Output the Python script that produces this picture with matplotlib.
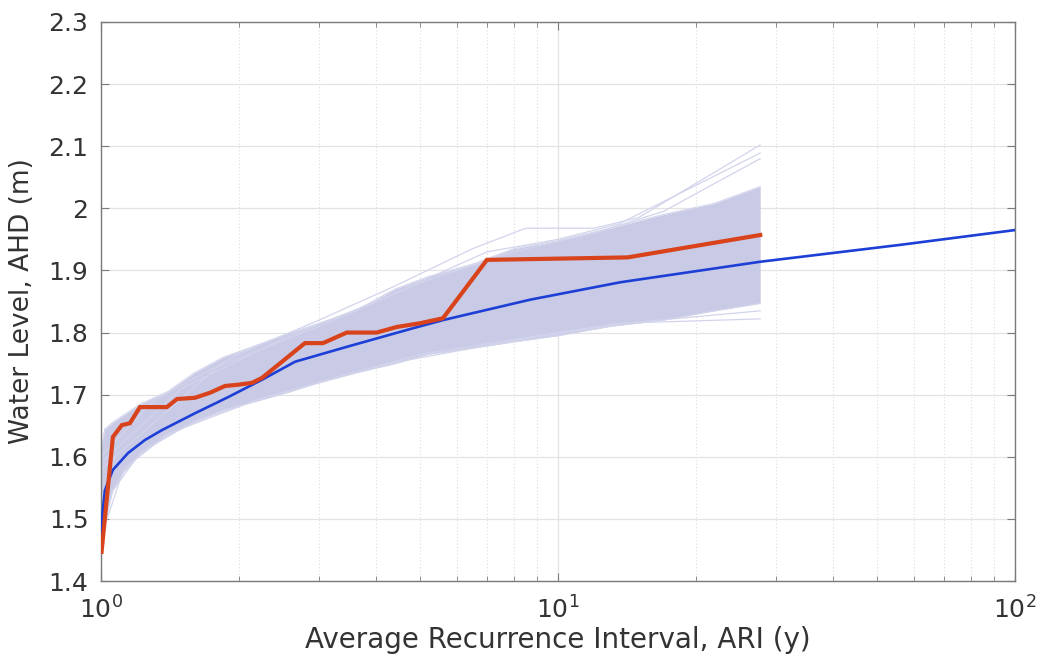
import numpy as np
import matplotlib
matplotlib.use("Agg")
import matplotlib.pyplot as plt
from matplotlib.ticker import LogLocator, MultipleLocator, NullFormatter, FuncFormatter

# ---- data ----
ens_ari = [1.0, 1.02, 1.06, 1.12, 1.22, 1.4, 1.6, 1.85, 2.2, 2.6, 3.0, 3.6,
           4.4, 5.2, 6.5, 8.0, 10, 13, 17, 22, 27.7]
ens_low = [1.455, 1.50, 1.545, 1.575, 1.605, 1.635, 1.655, 1.675, 1.69, 1.705,
           1.72, 1.735, 1.75, 1.765, 1.775, 1.785, 1.795, 1.81, 1.82, 1.835, 1.847]
ens_high = [1.615, 1.645, 1.655, 1.667, 1.685, 1.705, 1.735, 1.76, 1.78, 1.80,
            1.815, 1.835, 1.87, 1.89, 1.91, 1.935, 1.948, 1.968, 1.99, 2.008, 2.035]

# individual outlying realisations
out1_ari = [1.0, 1.3, 2.0, 3.0, 4.4, 6.5, 8.5, 12.0, 15.0, 27.7]
out1_wl = [1.60, 1.69, 1.765, 1.82, 1.875, 1.935, 1.968, 1.968, 1.985, 2.102]
out2_ari = [1.0, 1.5, 2.5, 4.0, 7.0, 10.0, 13.6, 27.7]
out2_wl = [1.59, 1.71, 1.79, 1.85, 1.93, 1.95, 1.975, 2.089]
out3_ari = [1.0, 1.8, 3.0, 5.0, 8.0, 12.0, 17.0, 27.7]
out3_wl = [1.58, 1.745, 1.81, 1.88, 1.93, 1.96, 1.995, 2.08]
out4_ari = [1.0, 1.06, 1.22, 1.6, 2.2, 3.0, 5.0, 8.2, 13.6, 27.7]
out4_wl = [1.46, 1.545, 1.607, 1.657, 1.692, 1.72, 1.765, 1.79, 1.815, 1.822]
out5_ari = [1.0, 1.12, 1.4, 2.2, 4.4, 8.0, 14.0, 27.7]
out5_wl = [1.47, 1.58, 1.637, 1.692, 1.752, 1.787, 1.815, 1.835]

red_ari = [1.003, 1.062, 1.111, 1.157, 1.217, 1.394, 1.467, 1.605, 1.731, 1.868,
           1.994, 2.139, 2.251, 2.489, 2.794, 3.06, 3.45, 4.01, 4.44, 4.99, 5.6,
           6.99, 14.2, 27.7]
red_wl = [1.447, 1.632, 1.651, 1.654, 1.68, 1.68, 1.693, 1.695, 1.703, 1.714,
          1.716, 1.719, 1.727, 1.753, 1.783, 1.783, 1.80, 1.80, 1.809, 1.815, 1.823,
          1.917, 1.921, 1.957]

blue_ari = [1.001, 1.008, 1.02, 1.062, 1.146, 1.248, 1.36, 1.605, 1.897, 2.251,
            2.658, 3.45, 4.82, 5.6, 8.7, 13.7, 27.7, 55.8, 100]
blue_wl = [1.465, 1.51, 1.546, 1.579, 1.606, 1.627, 1.643, 1.67, 1.696, 1.724,
           1.753, 1.777, 1.807, 1.82, 1.853, 1.881, 1.914, 1.941, 1.965]

x_label = "Average Recurrence Interval, ARI (y)"
y_label = "Water Level, AHD (m)"

# ---- plot ----
fig = plt.figure(figsize=(10.43, 6.66), dpi=100)
ax = fig.add_axes([0.0968, 0.1276, 0.8764, 0.8394])

lav = "#c9cbe6"
lav_line = "#d2d4ec"
ax.fill_between(ens_ari, ens_low, ens_high, color=lav, lw=0, zorder=2)
ax.plot(ens_ari, ens_low, color=lav_line, lw=0.8, zorder=2)
ax.plot(ens_ari, ens_high, color=lav_line, lw=0.8, zorder=2)
for xa, ya in [(out1_ari, out1_wl), (out2_ari, out2_wl), (out3_ari, out3_wl),
               (out4_ari, out4_wl), (out5_ari, out5_wl)]:
    ax.plot(xa, ya, color=lav_line, lw=0.9, zorder=2)

ax.plot(blue_ari, blue_wl, color="#1d3fd6", lw=1.9, zorder=4)
ax.plot(red_ari, red_wl, color="#d8431c", lw=3.0, zorder=5,
        solid_joinstyle="miter")

ax.set_xscale("log")
ax.set_xlim(1, 100)
ax.set_ylim(1.4, 2.3)
ax.yaxis.set_major_locator(MultipleLocator(0.1))
ax.yaxis.set_major_formatter(FuncFormatter(lambda v, p: f"{round(v, 1):g}"))
ax.xaxis.set_minor_locator(LogLocator(base=10, subs=np.arange(2, 10)))
ax.xaxis.set_minor_formatter(NullFormatter())

ax.grid(True, which="major", color="#e3e3e3", lw=0.9, zorder=0)
ax.grid(True, which="minor", axis="x", color="#dedede", lw=0.8, ls=(0, (1, 2)), zorder=0)
ax.set_axisbelow(True)

tc = "#333333"
for s in ax.spines.values():
    s.set_color("#7a7a7a")
    s.set_linewidth(1.0)
ax.tick_params(which="both", direction="in", top=True, right=True,
               colors="#7a7a7a", labelcolor=tc, labelsize=18)
ax.tick_params(which="major", length=6)
ax.tick_params(which="minor", length=3.5)
ax.tick_params(axis="x", pad=11)
ax.tick_params(axis="y", pad=9)

ax.set_xlabel(x_label, fontsize=20, color=tc, labelpad=2)
ax.set_ylabel(y_label, fontsize=19, color=tc, labelpad=10)

fig.savefig("out.png", dpi=100)
